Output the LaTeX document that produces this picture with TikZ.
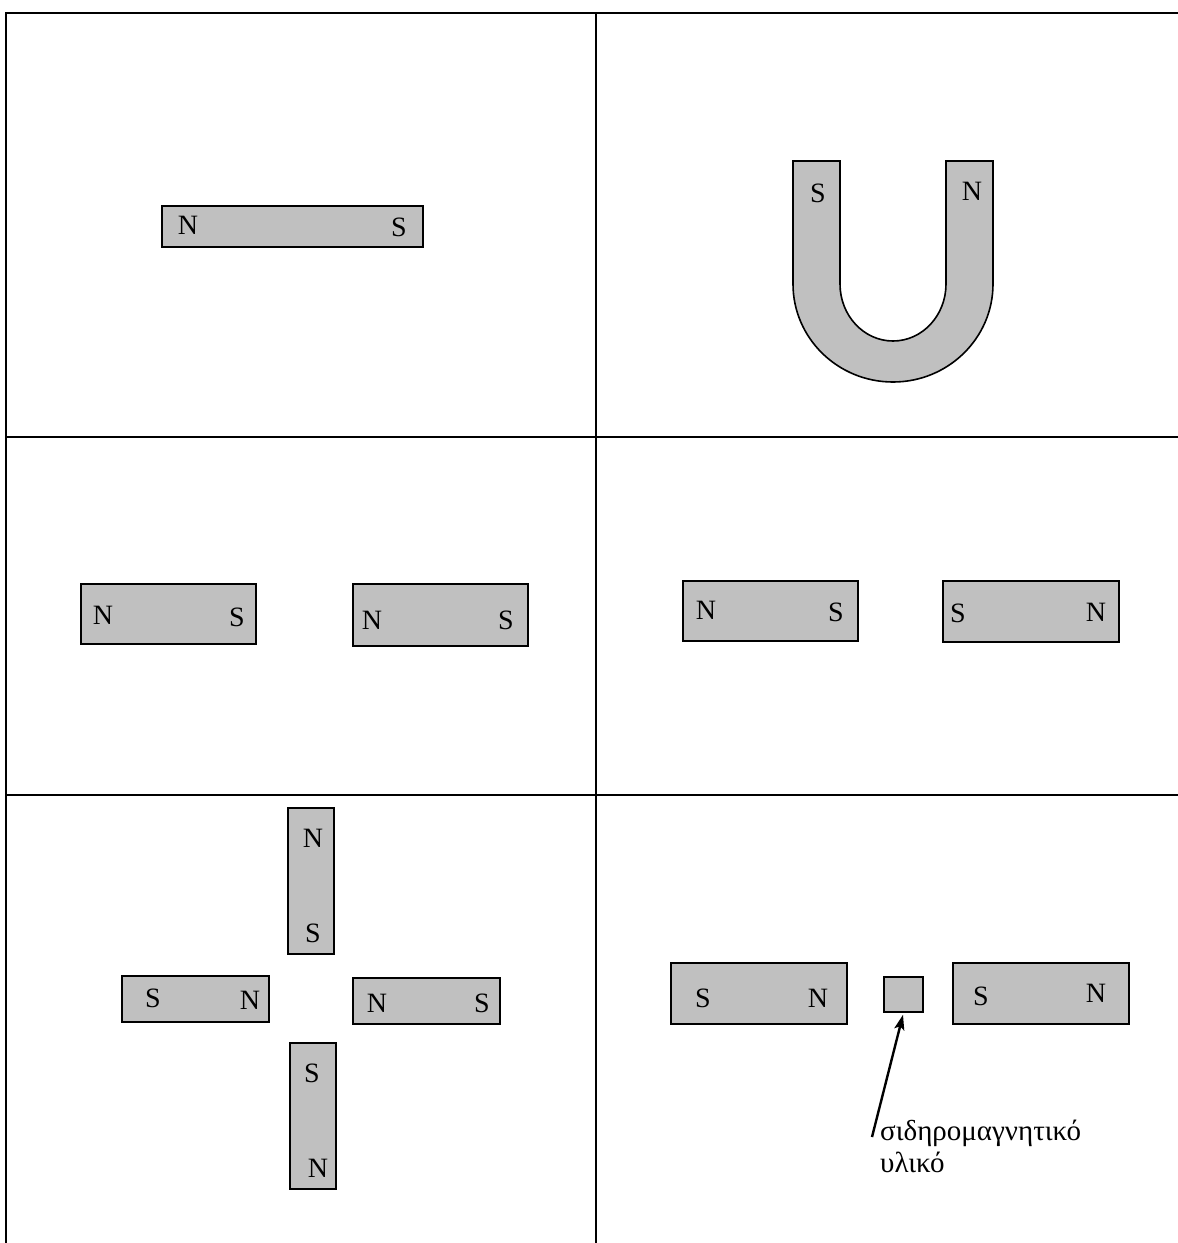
\documentclass[tikz,border=0pt]{standalone}
\usepackage{fontspec}
\setmainfont{Liberation Serif}
\usetikzlibrary{arrows.meta}
\usepackage{xcolor}
\definecolor{magnetgray}{RGB}{192,192,192}
\tikzset{
  tableline/.style={line width=2pt, draw=black},
  magnetline/.style={line width=1.6pt, draw=black, fill=magnetgray},
  magnet/.style 2 args={magnetline, rectangle, inner sep=0pt, minimum width=#1pt, minimum height=#2pt},
  pole/.style={font=\fontsize{28}{32}\selectfont, inner sep=0pt},
  caption/.style={font=\fontsize{29}{32}\selectfont, inner sep=0pt, align=left},
  pointer/.style={-{Stealth[length=15pt, width=10pt, inset=3pt]}, line width=2.4pt}
}

\begin{document}
\begin{tikzpicture}[x=1pt, y=1pt]
\useasboundingbox (0,0) rectangle (1178,-1243);
% table
\draw[tableline] (6,-1243) -- (6,-13) -- (1178,-13);
\draw[tableline] (596,-13) -- (596,-1243);
\draw[tableline] (6,-437) -- (1178,-437);
\draw[tableline] (6,-795) -- (1178,-795);

% bar magnets
\node[magnet={261}{41}] (bar) at (292.5,-226.5) {};
\node[magnet={175}{60}] (pairAleft) at (168.5,-614) {};
\node[magnet={175}{62}] (pairAright) at (440.5,-615) {};
\node[magnet={175}{60}] (pairBleft) at (770.5,-611) {};
\node[magnet={176}{61}] (pairBright) at (1031,-611.5) {};
\node[magnet={46}{146}] (crossup) at (311,-881) {};
\node[magnet={147}{46}] (crossleft) at (195.5,-999) {};
\node[magnet={147}{46}] (crossright) at (426.5,-1001) {};
\node[magnet={46}{146}] (crossdown) at (313,-1116) {};
\node[magnet={176}{61}] (gapleft) at (759,-993.5) {};
\node[magnet={176}{61}] (gapright) at (1041,-993.5) {};
\node[magnet={39}{35}] (iron) at (903.5,-994.5) {};

% horseshoe
\draw[magnetline] (793,-161) -- (840,-161) -- (840,-284)
  arc[start angle=180, end angle=360, x radius=53, y radius=57]
  -- (946,-161) -- (993,-161) -- (993,-284)
  arc[start angle=0, end angle=-180, x radius=100, y radius=98] -- cycle;

% poles
\foreach \p/\x/\y [count=\i] in {N/188/225, S/399/227, S/818/193, N/972/191,
  N/103/615, S/237/617, N/372/620, S/506/620,
  N/706/610, S/836/612, S/958/613, N/1096/612,
  N/313/838, S/313/933, S/153/998, N/250/1000,
  N/377/1003, S/482/1003, S/312/1073, N/318/1168,
  S/703/998, N/818/998, S/981/996, N/1096/993}
  \node[pole] (pole\i) at (\x,-\y) {\p};

% ferromagnetic label
\node[caption, anchor=base west] (ferro) at (880,-1172) {σιδηρομαγνητικό\\υλικό};
\coordinate (tail) at (872,-1137);
\draw[pointer, shorten >=2pt] (tail) -- (iron.south);
\end{tikzpicture}
\end{document}
